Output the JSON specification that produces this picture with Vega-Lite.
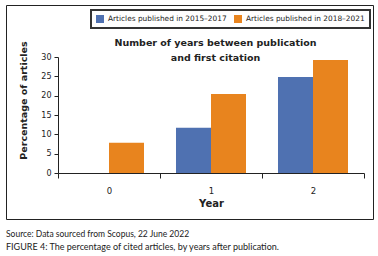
{
  "$schema": "https://vega.github.io/schema/vega-lite/v6.json",
  "padding": {"left": 5, "top": 4, "right": 5, "bottom": 4},
  "background": "white",
  "title": {
    "text": "Source: Data sourced from Scopus, 22 June 2022",
    "subtitle": "FIGURE 4: The percentage of cited articles, by years after publication.",
    "orient": "bottom",
    "anchor": "start",
    "frame": "group",
    "offset": 10,
    "font": "Lato",
    "fontSize": 8.5,
    "fontWeight": "normal",
    "color": "#222",
    "subtitleFont": "Lato",
    "subtitleFontSize": 9,
    "subtitleColor": "#222",
    "subtitlePadding": 5
  },
  "config": {
    "view": {"stroke": "#222", "strokeWidth": 1},
    "font": "DejaVu Sans",
    "legend": {"strokeColor": "#333333", "fillColor": "#fefefe", "strokeWidth": 2}
  },
  "vconcat": [
    {
      "width": 367,
      "height": 214,
      "title": {
        "text": ["Number of years between publication", "and first citation"],
        "anchor": "middle",
        "frame": "group",
        "dx": 26,
        "offset": -57,
        "baseline": "top",
        "lineHeight": 15,
        "font": "DejaVu Sans",
        "fontSize": 9.5,
        "fontWeight": "bold",
        "color": "#222"
      },
      "data": {
        "values": [
          {"year": "0", "period": "Articles published in 2018–2021", "pct": 7.8},
          {"year": "1", "period": "Articles published in 2015–2017", "pct": 11.7},
          {"year": "1", "period": "Articles published in 2018–2021", "pct": 20.4},
          {"year": "2", "period": "Articles published in 2015–2017", "pct": 24.8},
          {"year": "2", "period": "Articles published in 2018–2021", "pct": 29.2}
        ]
      },
      "mark": {"type": "bar"},
      "encoding": {
        "x": {
          "field": "year",
          "type": "ordinal",
          "scale": {"domain": ["0", "1", "2"], "range": [52, 358], "paddingInner": 0, "paddingOuter": 0},
          "axis": {
            "orient": "bottom",
            "offset": -46,
            "title": "Year",
            "titleFontWeight": "bold",
            "titleFontSize": 10,
            "titleColor": "#222",
            "titlePadding": 4,
            "labelAngle": 0,
            "labelFontSize": 8.5,
            "labelColor": "#222",
            "labelPadding": 8,
            "tickBand": "extent",
            "tickSize": 5,
            "tickColor": "#222",
            "domainColor": "#222",
            "grid": false
          }
        },
        "xOffset": {
          "field": "period",
          "type": "nominal",
          "sort": ["Articles published in 2015–2017", "Articles published in 2018–2021"],
          "scale": {"paddingInner": 0, "paddingOuter": 0.457}
        },
        "y": {
          "field": "pct",
          "type": "quantitative",
          "scale": {"domain": [0, 30], "range": [168, 52], "nice": false},
          "axis": {
            "orient": "left",
            "offset": -52,
            "values": [0, 5, 10, 15, 20, 25, 30],
            "title": "Percentage of articles",
            "titleFontWeight": "bold",
            "titleFontSize": 9.5,
            "titleColor": "#222",
            "titleX": -35,
            "titleY": 95,
            "titleBaseline": "middle",
            "titleAlign": "center",
            "labelFontSize": 8,
            "labelColor": "#222",
            "labelPadding": 3,
            "tickSize": 4,
            "tickColor": "#222",
            "domainColor": "#222",
            "grid": false
          }
        },
        "color": {
          "field": "period",
          "type": "nominal",
          "scale": {
            "domain": ["Articles published in 2015–2017", "Articles published in 2018–2021"],
            "range": ["#4F71B1", "#E8841E"]
          },
          "legend": {
            "orient": "none",
            "legendX": 85,
            "legendY": 5,
            "direction": "horizontal",
            "title": null,
            "padding": 5,
            "symbolType": "square",
            "symbolSize": 64,
            "symbolStrokeWidth": 0,
            "symbolOpacity": 1,
            "labelFont": "DejaVu Sans",
            "labelFontSize": 7.4,
            "labelColor": "#222",
            "labelOffset": 4,
            "columnPadding": 7
          }
        }
      }
    }
  ]
}
